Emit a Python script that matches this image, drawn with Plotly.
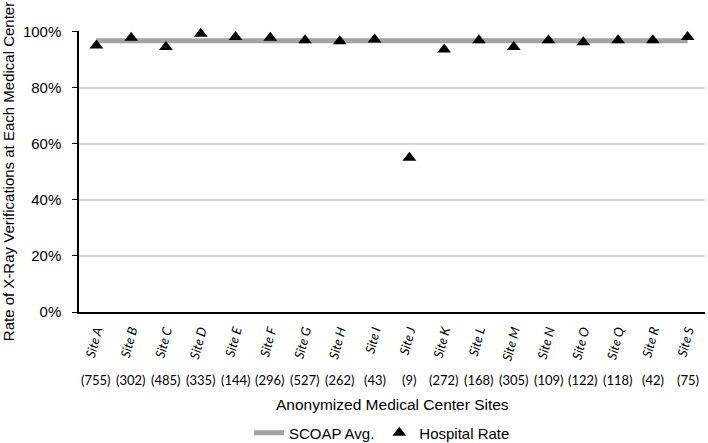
import plotly.graph_objects as go

sites = ["Site A", "Site B", "Site C", "Site D", "Site E", "Site F", "Site G", "Site H", "Site I",
         "Site J", "Site K", "Site L", "Site M", "Site N", "Site O", "Site Q", "Site R", "Site S"]
counts = ["(755)", "(302)", "(485)", "(335)", "(144)", "(296)", "(527)", "(262)", "(43)",
          "(9)", "(272)", "(168)", "(305)", "(109)", "(122)", "(118)", "(42)", "(75)"]
hospital_rate = [95.1, 97.9, 94.6, 99.3, 98.2, 97.9, 97.0, 96.6, 97.3,
                 55.1, 93.7, 97.0, 94.6, 97.0, 96.3, 97.0, 97.0, 98.2]
scoap_avg = 96.8
y_ticks = [0, 20, 40, 60, 80, 100]
y_tick_labels = ["0%", "20%", "40%", "60%", "80%", "100%"]

fig = go.Figure()
fig.add_trace(go.Scatter(
    x=sites, y=[scoap_avg] * len(sites), mode="lines", name="SCOAP Avg.",
    line=dict(color="#a3a3a3", width=5), cliponaxis=False))
fig.add_trace(go.Scatter(
    x=sites, y=hospital_rate, mode="markers", name="Hospital Rate",
    marker=dict(symbol="triangle-up", size=12, color="black"), cliponaxis=False))

# paper y: plot area spans pixel 31..312 (281 px)
for s, c in zip(sites, counts):
    fig.add_annotation(x=s, y=-(380 - 312) / 281, xref="x", yref="paper", text=c,
                       showarrow=False, yanchor="middle",
                       font=dict(family="Lato", size=13, color="black"))
fig.add_annotation(x=0.5, y=-(404 - 312) / 281, xref="paper", yref="paper",
                   text="Anonymized Medical Center Sites", showarrow=False, yanchor="middle",
                   font=dict(family="Liberation Sans", size=15.5, color="black"))

fig.update_layout(
    width=708, height=443,
    margin=dict(l=79, r=3, t=31, b=131),
    plot_bgcolor="white", paper_bgcolor="white",
    showlegend=True,
    legend=dict(orientation="h", x=0.484, xanchor="center", xref="paper",
                y=(443 - 433) / 443, yanchor="middle", yref="container",
                font=dict(family="Liberation Sans", size=15, color="black"),
                itemwidth=30, tracegroupgap=0),
    xaxis=dict(type="category", range=[-0.5, 17.5], showline=True, linecolor="black",
               linewidth=1.5, ticks="", tickangle=-75, automargin=False,
               ticklabelstandoff=4,
               tickfont=dict(family="Lato", size=13, color="black", style="italic"),
               showgrid=False),
    yaxis=dict(range=[0, 100.3], tickvals=y_ticks, ticktext=y_tick_labels,
               showline=True, linecolor="black", linewidth=1.5, ticks="outside",
               ticklen=5, tickcolor="black", showgrid=True, gridcolor="#d6d6d6",
               gridwidth=1.5, zeroline=False, automargin=False, ticklabelstandoff=8,
               tickfont=dict(family="Liberation Sans", size=15, color="black"),
               title=dict(text="Rate of X-Ray Verifications at Each Medical Center",
                          font=dict(family="Liberation Sans", size=15, color="black"),
                          standoff=8)),
)

fig.write_html("out.html", config={"displayModeBar": False},
               post_script="document.body.style.margin='0';document.body.style.overflow='hidden';")
